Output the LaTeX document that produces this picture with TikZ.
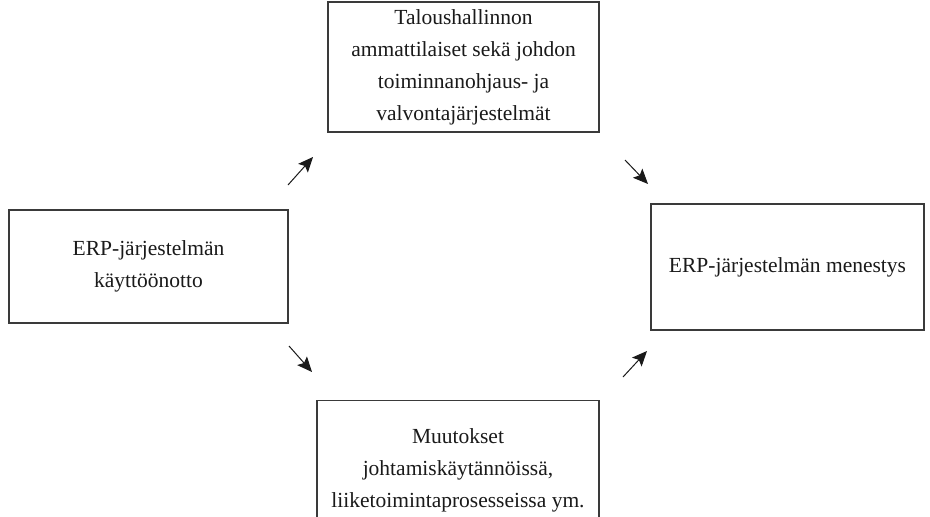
\documentclass[tikz,border=0pt]{standalone}
\usepackage{fontspec}
\setmainfont{Liberation Serif}
\usepackage{tikz}
\usetikzlibrary{arrows.meta,positioning}
\definecolor{ink}{HTML}{1A1A1A}
\definecolor{boxline}{HTML}{3A3A3A}
\tikzset{
  card/.style={draw=boxline,fill=white,line width=1.3pt,align=center,
               inner sep=4pt,font=\fontsize{21.5}{32}\selectfont,text=ink},
  flowarr/.style={-{Stealth[length=15pt,width=13pt,inset=3pt]},line width=1pt,draw=ink}
}

\begin{document}
\begin{tikzpicture}[x=1pt,y=-1pt]
    \path[use as bounding box,fill=white] (0,0) rectangle (930,517);
    \node[card,minimum width=271pt,minimum height=130pt] (talous) at (463.5,67)
      {Taloushallinnon\\ammattilaiset sekä johdon\\toiminnanohjaus- ja\\valvontajärjestelmät};
    \node[card,minimum width=279pt,minimum height=113pt] (kaytto) at (148.5,266.5)
      {ERP-järjestelmän\\käyttöönotto};
    \node[card,minimum width=273pt,minimum height=126pt] (menestys) at (787.5,267)
      {ERP-järjestelmän menestys};
    \node[card,minimum width=282pt,minimum height=140pt,anchor=north] (muutos) at (458,400)
      {Muutokset\\johtamiskäytännöissä,\\liiketoimintaprosesseissa ym.};

    \coordinate (ylaA) at (288,185);  \coordinate (ylaB) at (313,157);
    \coordinate (ylaC) at (625,160);  \coordinate (ylaD) at (648,184);
    \coordinate (alaA) at (289,346);  \coordinate (alaB) at (312,372);
    \coordinate (alaC) at (623,377);  \coordinate (alaD) at (647,351);
    \draw[flowarr] (ylaA) -- (ylaB);
    \draw[flowarr] (ylaC) -- (ylaD);
    \draw[flowarr] (alaA) -- (alaB);
    \draw[flowarr] (alaC) -- (alaD);
  \end{tikzpicture}
\end{document}
